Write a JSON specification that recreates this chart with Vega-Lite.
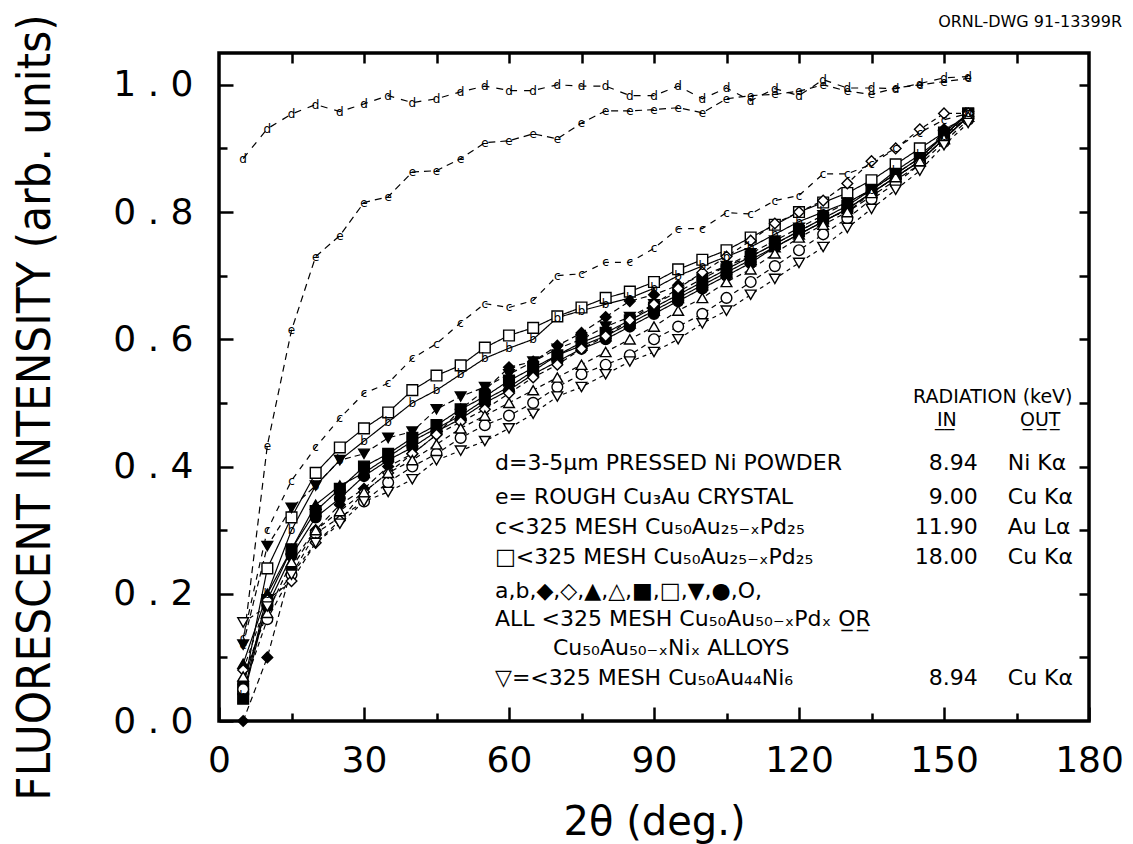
{
  "$schema": "https://vega.github.io/schema/vega-lite/v6.json",
  "width": 870,
  "height": 668,
  "autosize": {"type": "none"},
  "padding": {"left": 219, "top": 53, "right": 44, "bottom": 123},
  "background": "white",
  "title": {"text": "ORNL-DWG 91-13399R", "anchor": "end", "frame": "group", "fontSize": 16, "fontWeight": "normal", "font": "DejaVu Sans", "offset": -16, "dx": 33, "color": "black"},
  "config": {
    "view": {"stroke": "black", "strokeWidth": 3.5},
    "axis": {"domain": false, "grid": false, "tickColor": "black", "tickWidth": 2.5, "labelColor": "black", "titleColor": "black", "labelFont": "DejaVu Sans", "labelFontSize": 36, "titleFontWeight": "normal", "labelFlush": false, "labelOverlap": false}
  },
  "datasets": {
    "curves": [
      {"s":"d","x":5,"y":0.884},{"s":"d","x":10,"y":0.931},{"s":"d","x":15,"y":0.954},{"s":"d","x":20,"y":0.969},{"s":"d","x":25,"y":0.958},{"s":"d","x":30,"y":0.970},{"s":"d","x":35,"y":0.983},{"s":"d","x":40,"y":0.972},{"s":"d","x":45,"y":0.978},{"s":"d","x":50,"y":0.989},{"s":"d","x":55,"y":0.998},{"s":"d","x":60,"y":0.991},{"s":"d","x":65,"y":0.991},{"s":"d","x":70,"y":1.0},{"s":"d","x":75,"y":0.998},{"s":"d","x":80,"y":0.998},{"s":"d","x":85,"y":0.983},{"s":"d","x":90,"y":0.983},{"s":"d","x":95,"y":0.998},{"s":"d","x":100,"y":0.978},{"s":"d","x":105,"y":0.995},{"s":"d","x":110,"y":0.975},{"s":"d","x":115,"y":0.994},{"s":"d","x":120,"y":0.983},{"s":"d","x":125,"y":1.008},{"s":"d","x":130,"y":0.995},{"s":"d","x":135,"y":0.995},{"s":"d","x":140,"y":0.994},{"s":"d","x":145,"y":1.002},{"s":"d","x":150,"y":1.011},{"s":"d","x":155,"y":1.013},
      {"s":"e","x":5,"y":0.12},{"s":"e","x":10,"y":0.433},{"s":"e","x":15,"y":0.614},{"s":"e","x":20,"y":0.730},{"s":"e","x":25,"y":0.763},{"s":"e","x":30,"y":0.815},{"s":"e","x":35,"y":0.824},{"s":"e","x":40,"y":0.863},{"s":"e","x":45,"y":0.865},{"s":"e","x":50,"y":0.884},{"s":"e","x":55,"y":0.909},{"s":"e","x":60,"y":0.912},{"s":"e","x":65,"y":0.923},{"s":"e","x":70,"y":0.915},{"s":"e","x":75,"y":0.940},{"s":"e","x":80,"y":0.959},{"s":"e","x":85,"y":0.959},{"s":"e","x":90,"y":0.961},{"s":"e","x":95,"y":0.964},{"s":"e","x":100,"y":0.956},{"s":"e","x":105,"y":0.978},{"s":"e","x":110,"y":0.983},{"s":"e","x":115,"y":0.985},{"s":"e","x":120,"y":0.99},{"s":"e","x":125,"y":1.0},{"s":"e","x":130,"y":0.99},{"s":"e","x":135,"y":0.985},{"s":"e","x":140,"y":0.995},{"s":"e","x":145,"y":1.0},{"s":"e","x":150,"y":1.005},{"s":"e","x":155,"y":1.01},
      {"s":"c","x":5,"y":0.13},{"s":"c","x":10,"y":0.30},{"s":"c","x":15,"y":0.378},{"s":"c","x":20,"y":0.43},{"s":"c","x":25,"y":0.476},{"s":"c","x":30,"y":0.515},{"s":"c","x":35,"y":0.531},{"s":"c","x":40,"y":0.570},{"s":"c","x":45,"y":0.593},{"s":"c","x":50,"y":0.626},{"s":"c","x":55,"y":0.656},{"s":"c","x":60,"y":0.650},{"s":"c","x":65,"y":0.661},{"s":"c","x":70,"y":0.700},{"s":"c","x":75,"y":0.703},{"s":"c","x":80,"y":0.721},{"s":"c","x":85,"y":0.721},{"s":"c","x":90,"y":0.743},{"s":"c","x":95,"y":0.774},{"s":"c","x":100,"y":0.774},{"s":"c","x":105,"y":0.799},{"s":"c","x":110,"y":0.797},{"s":"c","x":115,"y":0.818},{"s":"c","x":120,"y":0.826},{"s":"c","x":125,"y":0.860},{"s":"c","x":130,"y":0.860},{"s":"c","x":135,"y":0.875},{"s":"c","x":140,"y":0.900},{"s":"c","x":145,"y":0.925},{"s":"c","x":150,"y":0.945},{"s":"c","x":155,"y":0.955},
      {"s":"b","x":5,"y":0.04},{"s":"b","x":10,"y":0.20},{"s":"b","x":15,"y":0.30},{"s":"b","x":20,"y":0.37},{"s":"b","x":25,"y":0.41},{"s":"b","x":30,"y":0.44},{"s":"b","x":35,"y":0.47},{"s":"b","x":40,"y":0.50},{"s":"b","x":45,"y":0.52},{"s":"b","x":50,"y":0.545},{"s":"b","x":55,"y":0.57},{"s":"b","x":60,"y":0.586},{"s":"b","x":65,"y":0.60},{"s":"b","x":70,"y":0.634},{"s":"b","x":75,"y":0.645},{"s":"b","x":80,"y":0.655},{"s":"b","x":85,"y":0.665},{"s":"b","x":90,"y":0.68},{"s":"b","x":95,"y":0.70},{"s":"b","x":100,"y":0.715},{"s":"b","x":105,"y":0.73},{"s":"b","x":110,"y":0.745},{"s":"b","x":115,"y":0.765},{"s":"b","x":120,"y":0.785},{"s":"b","x":125,"y":0.80},{"s":"b","x":130,"y":0.815},{"s":"b","x":135,"y":0.835},{"s":"b","x":140,"y":0.865},{"s":"b","x":145,"y":0.89},{"s":"b","x":150,"y":0.92},{"s":"b","x":155,"y":0.955},
      {"s":"sq_open","x":5,"y":0.05},{"s":"sq_open","x":10,"y":0.24},{"s":"sq_open","x":15,"y":0.32},{"s":"sq_open","x":20,"y":0.39},{"s":"sq_open","x":25,"y":0.43},{"s":"sq_open","x":30,"y":0.46},{"s":"sq_open","x":35,"y":0.485},{"s":"sq_open","x":40,"y":0.52},{"s":"sq_open","x":45,"y":0.543},{"s":"sq_open","x":50,"y":0.559},{"s":"sq_open","x":55,"y":0.587},{"s":"sq_open","x":60,"y":0.606},{"s":"sq_open","x":65,"y":0.618},{"s":"sq_open","x":70,"y":0.636},{"s":"sq_open","x":75,"y":0.65},{"s":"sq_open","x":80,"y":0.665},{"s":"sq_open","x":85,"y":0.675},{"s":"sq_open","x":90,"y":0.69},{"s":"sq_open","x":95,"y":0.71},{"s":"sq_open","x":100,"y":0.725},{"s":"sq_open","x":105,"y":0.74},{"s":"sq_open","x":110,"y":0.76},{"s":"sq_open","x":115,"y":0.78},{"s":"sq_open","x":120,"y":0.80},{"s":"sq_open","x":125,"y":0.815},{"s":"sq_open","x":130,"y":0.83},{"s":"sq_open","x":135,"y":0.85},{"s":"sq_open","x":140,"y":0.875},{"s":"sq_open","x":145,"y":0.90},{"s":"sq_open","x":150,"y":0.925},{"s":"sq_open","x":155,"y":0.955},
      {"s":"tdn_fill","x":5,"y":0.12},{"s":"tdn_fill","x":10,"y":0.275},{"s":"tdn_fill","x":15,"y":0.335},{"s":"tdn_fill","x":20,"y":0.37},{"s":"tdn_fill","x":25,"y":0.41},{"s":"tdn_fill","x":30,"y":0.42},{"s":"tdn_fill","x":35,"y":0.445},{"s":"tdn_fill","x":40,"y":0.455},{"s":"tdn_fill","x":45,"y":0.49},{"s":"tdn_fill","x":50,"y":0.51},{"s":"tdn_fill","x":55,"y":0.525},{"s":"tdn_fill","x":60,"y":0.545},{"s":"tdn_fill","x":65,"y":0.565},{"s":"tdn_fill","x":70,"y":0.585},{"s":"tdn_fill","x":75,"y":0.60},{"s":"tdn_fill","x":80,"y":0.62},{"s":"tdn_fill","x":85,"y":0.635},{"s":"tdn_fill","x":90,"y":0.655},{"s":"tdn_fill","x":95,"y":0.675},{"s":"tdn_fill","x":100,"y":0.695},{"s":"tdn_fill","x":105,"y":0.715},{"s":"tdn_fill","x":110,"y":0.735},{"s":"tdn_fill","x":115,"y":0.755},{"s":"tdn_fill","x":120,"y":0.775},{"s":"tdn_fill","x":125,"y":0.795},{"s":"tdn_fill","x":130,"y":0.815},{"s":"tdn_fill","x":135,"y":0.835},{"s":"tdn_fill","x":140,"y":0.86},{"s":"tdn_fill","x":145,"y":0.885},{"s":"tdn_fill","x":150,"y":0.92},{"s":"tdn_fill","x":155,"y":0.95},
      {"s":"dia_fill","x":5,"y":0.0},{"s":"dia_fill","x":10,"y":0.10},{"s":"dia_fill","x":15,"y":0.24},{"s":"dia_fill","x":20,"y":0.30},{"s":"dia_fill","x":25,"y":0.34},{"s":"dia_fill","x":30,"y":0.365},{"s":"dia_fill","x":35,"y":0.40},{"s":"dia_fill","x":40,"y":0.42},{"s":"dia_fill","x":45,"y":0.45},{"s":"dia_fill","x":50,"y":0.49},{"s":"dia_fill","x":55,"y":0.52},{"s":"dia_fill","x":60,"y":0.556},{"s":"dia_fill","x":65,"y":0.565},{"s":"dia_fill","x":70,"y":0.59},{"s":"dia_fill","x":75,"y":0.61},{"s":"dia_fill","x":80,"y":0.635},{"s":"dia_fill","x":85,"y":0.66},{"s":"dia_fill","x":90,"y":0.67},{"s":"dia_fill","x":95,"y":0.685},{"s":"dia_fill","x":100,"y":0.70},{"s":"dia_fill","x":105,"y":0.715},{"s":"dia_fill","x":110,"y":0.73},{"s":"dia_fill","x":115,"y":0.75},{"s":"dia_fill","x":120,"y":0.77},{"s":"dia_fill","x":125,"y":0.79},{"s":"dia_fill","x":130,"y":0.80},{"s":"dia_fill","x":135,"y":0.825},{"s":"dia_fill","x":140,"y":0.85},{"s":"dia_fill","x":145,"y":0.875},{"s":"dia_fill","x":150,"y":0.93},{"s":"dia_fill","x":155,"y":0.95},
      {"s":"cir_fill","x":5,"y":0.06},{"s":"cir_fill","x":10,"y":0.18},{"s":"cir_fill","x":15,"y":0.26},{"s":"cir_fill","x":20,"y":0.32},{"s":"cir_fill","x":25,"y":0.35},{"s":"cir_fill","x":30,"y":0.385},{"s":"cir_fill","x":35,"y":0.41},{"s":"cir_fill","x":40,"y":0.43},{"s":"cir_fill","x":45,"y":0.455},{"s":"cir_fill","x":50,"y":0.475},{"s":"cir_fill","x":55,"y":0.50},{"s":"cir_fill","x":60,"y":0.52},{"s":"cir_fill","x":65,"y":0.545},{"s":"cir_fill","x":70,"y":0.565},{"s":"cir_fill","x":75,"y":0.585},{"s":"cir_fill","x":80,"y":0.60},{"s":"cir_fill","x":85,"y":0.62},{"s":"cir_fill","x":90,"y":0.64},{"s":"cir_fill","x":95,"y":0.66},{"s":"cir_fill","x":100,"y":0.68},{"s":"cir_fill","x":105,"y":0.70},{"s":"cir_fill","x":110,"y":0.72},{"s":"cir_fill","x":115,"y":0.745},{"s":"cir_fill","x":120,"y":0.765},{"s":"cir_fill","x":125,"y":0.785},{"s":"cir_fill","x":130,"y":0.805},{"s":"cir_fill","x":135,"y":0.83},{"s":"cir_fill","x":140,"y":0.855},{"s":"cir_fill","x":145,"y":0.88},{"s":"cir_fill","x":150,"y":0.915},{"s":"cir_fill","x":155,"y":0.95},
      {"s":"sq_fill","x":5,"y":0.035},{"s":"sq_fill","x":10,"y":0.19},{"s":"sq_fill","x":15,"y":0.27},{"s":"sq_fill","x":20,"y":0.33},{"s":"sq_fill","x":25,"y":0.365},{"s":"sq_fill","x":30,"y":0.40},{"s":"sq_fill","x":35,"y":0.42},{"s":"sq_fill","x":40,"y":0.445},{"s":"sq_fill","x":45,"y":0.465},{"s":"sq_fill","x":50,"y":0.49},{"s":"sq_fill","x":55,"y":0.51},{"s":"sq_fill","x":60,"y":0.535},{"s":"sq_fill","x":65,"y":0.555},{"s":"sq_fill","x":70,"y":0.575},{"s":"sq_fill","x":75,"y":0.595},{"s":"sq_fill","x":80,"y":0.61},{"s":"sq_fill","x":85,"y":0.63},{"s":"sq_fill","x":90,"y":0.65},{"s":"sq_fill","x":95,"y":0.67},{"s":"sq_fill","x":100,"y":0.69},{"s":"sq_fill","x":105,"y":0.71},{"s":"sq_fill","x":110,"y":0.73},{"s":"sq_fill","x":115,"y":0.75},{"s":"sq_fill","x":120,"y":0.77},{"s":"sq_fill","x":125,"y":0.79},{"s":"sq_fill","x":130,"y":0.81},{"s":"sq_fill","x":135,"y":0.835},{"s":"sq_fill","x":140,"y":0.86},{"s":"sq_fill","x":145,"y":0.885},{"s":"sq_fill","x":150,"y":0.92},{"s":"sq_fill","x":155,"y":0.955},
      {"s":"tri_fill","x":5,"y":0.09},{"s":"tri_fill","x":10,"y":0.20},{"s":"tri_fill","x":15,"y":0.27},{"s":"tri_fill","x":20,"y":0.34},{"s":"tri_fill","x":25,"y":0.37},{"s":"tri_fill","x":30,"y":0.39},{"s":"tri_fill","x":35,"y":0.415},{"s":"tri_fill","x":40,"y":0.44},{"s":"tri_fill","x":45,"y":0.46},{"s":"tri_fill","x":50,"y":0.48},{"s":"tri_fill","x":55,"y":0.505},{"s":"tri_fill","x":60,"y":0.525},{"s":"tri_fill","x":65,"y":0.55},{"s":"tri_fill","x":70,"y":0.575},{"s":"tri_fill","x":75,"y":0.59},{"s":"tri_fill","x":80,"y":0.605},{"s":"tri_fill","x":85,"y":0.625},{"s":"tri_fill","x":90,"y":0.645},{"s":"tri_fill","x":95,"y":0.665},{"s":"tri_fill","x":100,"y":0.685},{"s":"tri_fill","x":105,"y":0.705},{"s":"tri_fill","x":110,"y":0.725},{"s":"tri_fill","x":115,"y":0.745},{"s":"tri_fill","x":120,"y":0.765},{"s":"tri_fill","x":125,"y":0.785},{"s":"tri_fill","x":130,"y":0.805},{"s":"tri_fill","x":135,"y":0.83},{"s":"tri_fill","x":140,"y":0.855},{"s":"tri_fill","x":145,"y":0.88},{"s":"tri_fill","x":150,"y":0.915},{"s":"tri_fill","x":155,"y":0.95},
      {"s":"cir_open","x":5,"y":0.05},{"s":"cir_open","x":10,"y":0.16},{"s":"cir_open","x":15,"y":0.23},{"s":"cir_open","x":20,"y":0.295},{"s":"cir_open","x":25,"y":0.32},{"s":"cir_open","x":30,"y":0.345},{"s":"cir_open","x":35,"y":0.375},{"s":"cir_open","x":40,"y":0.40},{"s":"cir_open","x":45,"y":0.42},{"s":"cir_open","x":50,"y":0.445},{"s":"cir_open","x":55,"y":0.465},{"s":"cir_open","x":60,"y":0.48},{"s":"cir_open","x":65,"y":0.50},{"s":"cir_open","x":70,"y":0.525},{"s":"cir_open","x":75,"y":0.545},{"s":"cir_open","x":80,"y":0.56},{"s":"cir_open","x":85,"y":0.575},{"s":"cir_open","x":90,"y":0.60},{"s":"cir_open","x":95,"y":0.62},{"s":"cir_open","x":100,"y":0.64},{"s":"cir_open","x":105,"y":0.665},{"s":"cir_open","x":110,"y":0.69},{"s":"cir_open","x":115,"y":0.715},{"s":"cir_open","x":120,"y":0.74},{"s":"cir_open","x":125,"y":0.765},{"s":"cir_open","x":130,"y":0.79},{"s":"cir_open","x":135,"y":0.82},{"s":"cir_open","x":140,"y":0.845},{"s":"cir_open","x":145,"y":0.875},{"s":"cir_open","x":150,"y":0.91},{"s":"cir_open","x":155,"y":0.945},
      {"s":"dia_open","x":5,"y":0.08},{"s":"dia_open","x":10,"y":0.19},{"s":"dia_open","x":15,"y":0.22},{"s":"dia_open","x":20,"y":0.28},{"s":"dia_open","x":25,"y":0.315},{"s":"dia_open","x":30,"y":0.36},{"s":"dia_open","x":35,"y":0.39},{"s":"dia_open","x":40,"y":0.42},{"s":"dia_open","x":45,"y":0.45},{"s":"dia_open","x":50,"y":0.47},{"s":"dia_open","x":55,"y":0.49},{"s":"dia_open","x":60,"y":0.515},{"s":"dia_open","x":65,"y":0.54},{"s":"dia_open","x":70,"y":0.56},{"s":"dia_open","x":75,"y":0.585},{"s":"dia_open","x":80,"y":0.605},{"s":"dia_open","x":85,"y":0.63},{"s":"dia_open","x":90,"y":0.655},{"s":"dia_open","x":95,"y":0.68},{"s":"dia_open","x":100,"y":0.705},{"s":"dia_open","x":105,"y":0.73},{"s":"dia_open","x":110,"y":0.755},{"s":"dia_open","x":115,"y":0.782},{"s":"dia_open","x":120,"y":0.80},{"s":"dia_open","x":125,"y":0.818},{"s":"dia_open","x":130,"y":0.845},{"s":"dia_open","x":135,"y":0.88},{"s":"dia_open","x":140,"y":0.90},{"s":"dia_open","x":145,"y":0.93},{"s":"dia_open","x":150,"y":0.955},{"s":"dia_open","x":155,"y":0.955},
      {"s":"tri_open","x":5,"y":0.07},{"s":"tri_open","x":10,"y":0.17},{"s":"tri_open","x":15,"y":0.25},{"s":"tri_open","x":20,"y":0.30},{"s":"tri_open","x":25,"y":0.33},{"s":"tri_open","x":30,"y":0.36},{"s":"tri_open","x":35,"y":0.39},{"s":"tri_open","x":40,"y":0.41},{"s":"tri_open","x":45,"y":0.435},{"s":"tri_open","x":50,"y":0.46},{"s":"tri_open","x":55,"y":0.48},{"s":"tri_open","x":60,"y":0.50},{"s":"tri_open","x":65,"y":0.52},{"s":"tri_open","x":70,"y":0.54},{"s":"tri_open","x":75,"y":0.56},{"s":"tri_open","x":80,"y":0.58},{"s":"tri_open","x":85,"y":0.60},{"s":"tri_open","x":90,"y":0.62},{"s":"tri_open","x":95,"y":0.645},{"s":"tri_open","x":100,"y":0.665},{"s":"tri_open","x":105,"y":0.69},{"s":"tri_open","x":110,"y":0.71},{"s":"tri_open","x":115,"y":0.735},{"s":"tri_open","x":120,"y":0.76},{"s":"tri_open","x":125,"y":0.78},{"s":"tri_open","x":130,"y":0.80},{"s":"tri_open","x":135,"y":0.83},{"s":"tri_open","x":140,"y":0.855},{"s":"tri_open","x":145,"y":0.88},{"s":"tri_open","x":150,"y":0.915},{"s":"tri_open","x":155,"y":0.95},
      {"s":"tdn_open","x":5,"y":0.155},{"s":"tdn_open","x":10,"y":0.18},{"s":"tdn_open","x":15,"y":0.23},{"s":"tdn_open","x":20,"y":0.28},{"s":"tdn_open","x":25,"y":0.31},{"s":"tdn_open","x":30,"y":0.345},{"s":"tdn_open","x":35,"y":0.36},{"s":"tdn_open","x":40,"y":0.38},{"s":"tdn_open","x":45,"y":0.41},{"s":"tdn_open","x":50,"y":0.425},{"s":"tdn_open","x":55,"y":0.44},{"s":"tdn_open","x":60,"y":0.46},{"s":"tdn_open","x":65,"y":0.483},{"s":"tdn_open","x":70,"y":0.51},{"s":"tdn_open","x":75,"y":0.525},{"s":"tdn_open","x":80,"y":0.545},{"s":"tdn_open","x":85,"y":0.565},{"s":"tdn_open","x":90,"y":0.58},{"s":"tdn_open","x":95,"y":0.60},{"s":"tdn_open","x":100,"y":0.625},{"s":"tdn_open","x":105,"y":0.645},{"s":"tdn_open","x":110,"y":0.67},{"s":"tdn_open","x":115,"y":0.695},{"s":"tdn_open","x":120,"y":0.72},{"s":"tdn_open","x":125,"y":0.745},{"s":"tdn_open","x":130,"y":0.775},{"s":"tdn_open","x":135,"y":0.805},{"s":"tdn_open","x":140,"y":0.835},{"s":"tdn_open","x":145,"y":0.865},{"s":"tdn_open","x":150,"y":0.905},{"s":"tdn_open","x":155,"y":0.94}
    ],
    "notes": [
      {"role":"head","x":143.6,"y":0.509,"t":"RADIATION (keV)"},
      {"role":"col","x":150.6,"y":0.473,"t":"I\u0332N\u0332"},
      {"role":"col","x":169.9,"y":0.473,"t":"O\u0332U\u0332T\u0332"},
      {"role":"desc","x":57.1,"y":0.4055,"t":"d=3-5μm PRESSED Ni POWDER"},
      {"role":"desc","x":57.1,"y":0.352,"t":"e=  ROUGH Cu₃Au CRYSTAL"},
      {"role":"desc","x":57.1,"y":0.305,"t":"c<325 MESH Cu₅₀Au₂₅₋ₓPd₂₅"},
      {"role":"desc","x":57.1,"y":0.258,"t":"□<325 MESH Cu₅₀Au₂₅₋ₓPd₂₅"},
      {"role":"desc","x":57.1,"y":0.204,"t":"a,b,◆,◇,▲,△,■,□,▼,●,O,"},
      {"role":"desc","x":57.1,"y":0.160,"t":"ALL <325 MESH Cu₅₀Au₅₀₋ₓPdₓ O\u0332R\u0332"},
      {"role":"desc","x":69.1,"y":0.115,"t":"Cu₅₀Au₅₀₋ₓNiₓ ALLOYS"},
      {"role":"desc","x":57.1,"y":0.068,"t":"▽=<325 MESH Cu₅₀Au₄₄Ni₆"},
      {"role":"energy","x":157.0,"y":0.4055,"t":"8.94"},
      {"role":"energy","x":157.0,"y":0.352,"t":"9.00"},
      {"role":"energy","x":157.0,"y":0.305,"t":"11.90"},
      {"role":"energy","x":157.0,"y":0.258,"t":"18.00"},
      {"role":"energy","x":157.0,"y":0.068,"t":"8.94"},
      {"role":"line","x":163.2,"y":0.4055,"t":"Ni Kα"},
      {"role":"line","x":163.2,"y":0.352,"t":"Cu Kα"},
      {"role":"line","x":163.2,"y":0.305,"t":"Au Lα"},
      {"role":"line","x":163.2,"y":0.258,"t":"Cu Kα"},
      {"role":"line","x":163.2,"y":0.068,"t":"Cu Kα"}
    ]
  },
  "layer": [
    {
      "data": {"name": "curves"},
      "mark": {"type": "line", "strokeWidth": 1.2, "color": "black"},
      "encoding": {
        "x": {"field": "x", "type": "quantitative", "scale": {"domain": [0, 180], "nice": false, "zero": false},
              "axis": {"orient": "bottom", "values": [0, 30, 60, 90, 120, 150, 180], "tickSize": -14, "labelPadding": 36,
                       "title": "2θ (deg.)", "titleFont": "DejaVu Sans", "titleFontSize": 40, "titleX": 435, "titleY": 101, "titleBaseline": "middle", "titleAlign": "center"}},
        "y": {"field": "y", "type": "quantitative", "scale": {"domain": [0, 1.05], "nice": false, "zero": false},
              "axis": {"orient": "left", "values": [0, 0.2, 0.4, 0.6, 0.8, 1.0], "format": ".1f", "labelExpr": "replace(datum.label, '.', ' . ')", "tickSize": -14, "labelPadding": 40,
                       "title": "FLUORESCENT INTENSITY (arb. units)", "titleFont": "DejaVu Sans Condensed, Liberation Sans Narrow, DejaVu Sans", "titleFontSize": 47, "titleX": -184, "titleY": 354, "titleAngle": 270, "titleBaseline": "middle", "titleAlign": "center"}},
        "detail": {"field": "s"},
        "strokeDash": {"field": "s", "type": "nominal", "legend": null,
                       "scale": {"domain": ["d", "e", "c", "b", "sq_open", "tdn_fill", "dia_fill", "cir_fill", "sq_fill", "tri_fill", "cir_open", "dia_open", "tri_open", "tdn_open"],
                                 "range": [[7, 7], [7, 5], [6, 6], [1, 0], [1, 0], [6, 4], [6, 4], [1, 0], [1, 0], [1, 0], [5, 4], [5, 4], [5, 4], [4, 4]]}}
      }
    },
    {
      "data": {"name": "curves"},
      "transform": [{"filter": {"field": "s", "oneOf": ["sq_open", "tdn_fill", "dia_fill", "cir_fill", "sq_fill", "tri_fill", "cir_open", "dia_open", "tri_open", "tdn_open"]}}],
      "mark": {"type": "point", "filled": true, "size": 115, "stroke": "black", "strokeWidth": 1.4, "opacity": 1},
      "encoding": {
        "x": {"field": "x", "type": "quantitative", "scale": {"domain": [0, 180], "nice": false, "zero": false},
              "axis": {"orient": "top", "values": [15, 30, 45, 60, 75, 90, 105, 120, 135, 150, 165], "tickSize": -10, "labels": false, "title": null}},
        "y": {"field": "y", "type": "quantitative", "scale": {"domain": [0, 1.05], "nice": false, "zero": false},
              "axis": {"orient": "right", "values": [0.1, 0.2, 0.3, 0.4, 0.5, 0.6, 0.7, 0.8, 0.9, 1.0], "tickSize": -10, "labels": false, "title": null}},
        "shape": {"field": "s", "type": "nominal", "legend": null,
                  "scale": {"domain": ["sq_open", "tdn_fill", "dia_fill", "cir_fill", "sq_fill", "tri_fill", "cir_open", "dia_open", "tri_open", "tdn_open"],
                            "range": ["square", "triangle-down", "diamond", "circle", "square", "triangle-up", "circle", "diamond", "triangle-up", "triangle-down"]}},
        "fill": {"field": "s", "type": "nominal", "legend": null,
                 "scale": {"domain": ["sq_open", "tdn_fill", "dia_fill", "cir_fill", "sq_fill", "tri_fill", "cir_open", "dia_open", "tri_open", "tdn_open"],
                           "range": ["white", "black", "black", "black", "black", "black", "white", "white", "white", "white"]}}
      }
    },
    {
      "data": {"name": "curves"},
      "transform": [{"filter": {"field": "s", "oneOf": ["d", "e", "c", "b"]}}],
      "mark": {"type": "text", "font": "DejaVu Sans", "fontSize": 12, "color": "black", "baseline": "middle", "align": "center"},
      "encoding": {
        "x": {"field": "x", "type": "quantitative", "scale": {"domain": [0, 180], "nice": false, "zero": false},
              "axis": {"orient": "bottom", "values": [15, 45, 75, 105, 135, 165], "tickSize": -8, "labels": false, "title": null}},
        "y": {"field": "y", "type": "quantitative", "scale": {"domain": [0, 1.05], "nice": false, "zero": false},
              "axis": {"orient": "left", "values": [0.1, 0.3, 0.5, 0.7, 0.9], "tickSize": -8, "labels": false, "title": null}},
        "text": {"field": "s"}
      }
    },
    {
      "data": {"name": "notes"},
      "transform": [{"filter": "datum.role === 'desc' || datum.role === 'line'"}],
      "mark": {"type": "text", "font": "DejaVu Sans", "fontSize": 22, "color": "black", "align": "left", "baseline": "middle"},
      "encoding": {
        "x": {"field": "x", "type": "quantitative", "scale": {"domain": [0, 180], "nice": false, "zero": false}, "axis": null},
        "y": {"field": "y", "type": "quantitative", "scale": {"domain": [0, 1.05], "nice": false, "zero": false}, "axis": null},
        "text": {"field": "t"}
      }
    },
    {
      "data": {"name": "notes"},
      "transform": [{"filter": "datum.role === 'energy'"}],
      "mark": {"type": "text", "font": "DejaVu Sans", "fontSize": 22, "color": "black", "align": "right", "baseline": "middle"},
      "encoding": {
        "x": {"field": "x", "type": "quantitative", "scale": {"domain": [0, 180], "nice": false, "zero": false}, "axis": null},
        "y": {"field": "y", "type": "quantitative", "scale": {"domain": [0, 1.05], "nice": false, "zero": false}, "axis": null},
        "text": {"field": "t"}
      }
    },
    {
      "data": {"name": "notes"},
      "transform": [{"filter": "datum.role === 'head'"}],
      "mark": {"type": "text", "font": "DejaVu Sans", "fontSize": 19, "color": "black", "align": "left", "baseline": "middle"},
      "encoding": {
        "x": {"field": "x", "type": "quantitative", "scale": {"domain": [0, 180], "nice": false, "zero": false}, "axis": null},
        "y": {"field": "y", "type": "quantitative", "scale": {"domain": [0, 1.05], "nice": false, "zero": false}, "axis": null},
        "text": {"field": "t"}
      }
    },
    {
      "data": {"name": "notes"},
      "transform": [{"filter": "datum.role === 'col'"}],
      "mark": {"type": "text", "font": "DejaVu Sans", "fontSize": 19, "color": "black", "align": "center", "baseline": "middle"},
      "encoding": {
        "x": {"field": "x", "type": "quantitative", "scale": {"domain": [0, 180], "nice": false, "zero": false}, "axis": null},
        "y": {"field": "y", "type": "quantitative", "scale": {"domain": [0, 1.05], "nice": false, "zero": false}, "axis": null},
        "text": {"field": "t"}
      }
    }
  ],
  "resolve": {"axis": {"x": "independent", "y": "independent"}}
}
